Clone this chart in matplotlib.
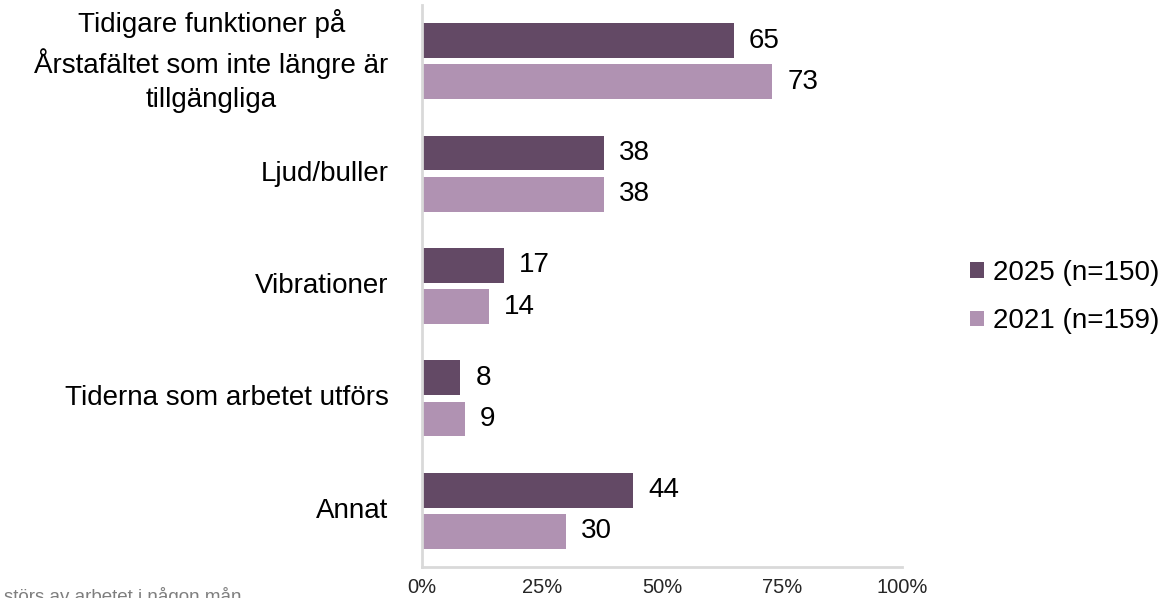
import matplotlib
matplotlib.use("Agg")
import matplotlib.pyplot as plt
import numpy as np

categories = [
    "Tidigare funktioner på\nÅrstafältet som inte längre är\ntillgängliga",
    "Ljud/buller",
    "Vibrationer",
    "Tiderna som arbetet utförs",
    "Annat",
]
values_2025 = [65, 38, 17, 8, 44]
values_2021 = [73, 38, 14, 9, 30]
series_labels = ["2025 (n=150)", "2021 (n=159)"]
tick_values = [0, 25, 50, 75, 100]
tick_labels = ["0%", "25%", "50%", "75%", "100%"]
footnote = "störs av arbetet i någon mån"

dark = "#634965"
light = "#B092B2"

plt.rcParams['font.family'] = ['Liberation Sans', 'DejaVu Sans']

fig = plt.figure(figsize=(11.67, 5.98), dpi=100)
ax = fig.add_axes([0.3616, 0.0518, 0.4113, 0.9398])

y = np.arange(len(categories))
off = 0.183
h = 0.31
b1 = ax.barh(y - off, values_2025, height=h, color=dark, label=series_labels[0])
b2 = ax.barh(y + off, values_2021, height=h, color=light, label=series_labels[1])

for bars, vals in ((b1, values_2025), (b2, values_2021)):
    for rect, v in zip(bars, vals):
        ax.annotate(f"{v}", xy=(rect.get_width(), rect.get_y() + rect.get_height() / 2),
                    xytext=(15, 0), textcoords="offset pixels",
                    va="center", ha="left", fontsize=20, color="#000000")

ax.set_xlim(0, 100)
ax.set_ylim(len(categories) - 0.5, -0.5)
ax.set_xticks(tick_values)
ax.set_xticklabels(tick_labels, fontsize=14.5, color="#262626")
ax.tick_params(axis="x", length=0, pad=8)
ax.set_yticks(y)
ax.set_yticklabels([])
ax.tick_params(axis="y", length=0)
for i, c in enumerate(categories):
    ax.text(-0.07, y[i], c, transform=ax.get_yaxis_transform(), ha="right", va="center",
            multialignment="center", fontsize=20, color="#000000", linespacing=1.4)

for s in ("top", "right"):
    ax.spines[s].set_visible(False)
for s in ("left", "bottom"):
    ax.spines[s].set_color("#D9D9D9")
    ax.spines[s].set_linewidth(2)

leg = fig.legend(handles=[b1, b2], labels=series_labels, loc="center left",
                 bbox_to_anchor=(0.822, 0.503), frameon=False, fontsize=20,
                 handlelength=0.5, handleheight=0.5, handletextpad=0.3,
                 labelspacing=0.8, borderaxespad=0)

fig.text(0.003, -4 / 598, footnote, ha="left", va="baseline", fontsize=13.5, color="#7F7F7F")

fig.savefig("out.png", dpi=100)
